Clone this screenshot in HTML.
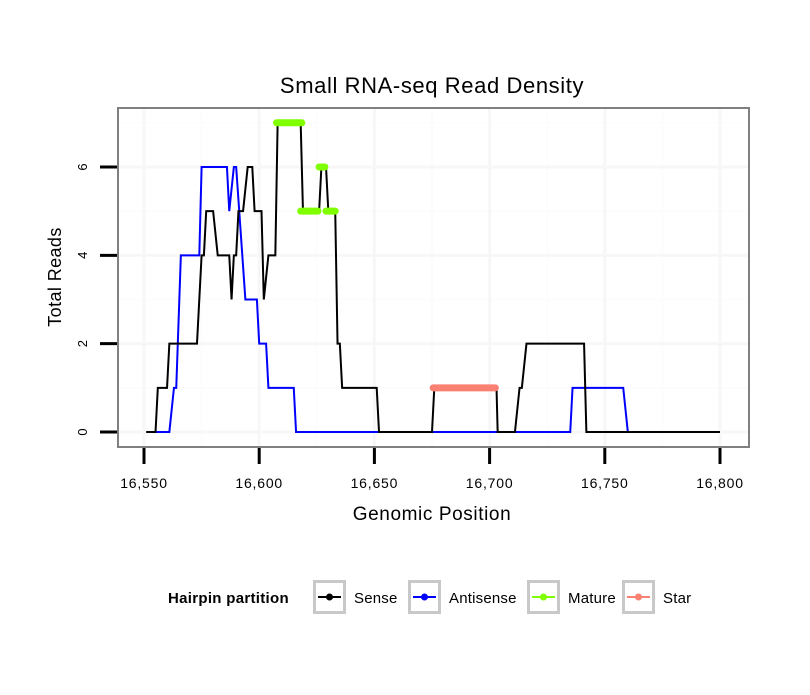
<!DOCTYPE html>
<html><head><meta charset="utf-8"><style>
body{margin:0;background:#fff;}
svg text{font-family:"Liberation Sans",sans-serif;}
</style></head><body>
<svg id="chart" width="810" height="690" xmlns="http://www.w3.org/2000/svg">
<rect width="810" height="690" fill="#fff"/>
<text x="432" y="93" font-size="22" letter-spacing="0.6" text-anchor="middle">Small RNA-seq Read Density</text>
<g id="grid"></g>
<g id="series"></g>
<rect x="118" y="108" width="631" height="339" fill="none" stroke="#808080" stroke-width="2"/>
<g id="axes"></g>
<text x="432" y="520" font-size="19" letter-spacing="0.6" text-anchor="middle">Genomic Position</text>
<text transform="translate(61,277) rotate(-90)" font-size="18" letter-spacing="0.4" text-anchor="middle">Total Reads</text>
<g>
<text x="168" y="603" font-size="15" font-weight="bold" letter-spacing="0.3">Hairpin partition</text>
<g id="legend-items"></g>
</g>
</svg>
<script>
const senseX=[16551,16555,16556,16560,16561,16573,16575,16576,16577,16580,16582,16587,16588,16589,16590,16591,16593,16595,16597,16598,16601,16602,16604,16607,16608,16618,16619,16626,16627,16629,16630,16633,16634,16635,16636,16651,16652,16675,16676,16703,16703.5,16711,16713,16714,16716,16741,16742,16800];
const senseY=[0,0,1,1,2,2,4,4,5,5,4,4,3,4,4,5,5,6,6,5,5,3,4,4,7,7,5,5,6,6,5,5,2,2,1,1,0,0,1,1,0,0,1,1,2,2,0,0];
const antiX=[16551,16561,16563,16564,16566,16574,16575,16586,16587,16589,16590,16594,16599,16600,16603,16604,16615,16616,16735,16736,16758,16760];
const antiY=[0,0,1,1,4,4,6,6,5,6,6,3,3,2,2,1,1,0,0,1,1,0];
const matureStart=[16607.5,16618,16626,16629];
const matureEnd=[16618.5,16625.5,16628.5,16633];
const matureY=[7,5,6,5];
const starStart=[16675.5];
const starEnd=[16702.5];
const starY=[1];
const xTicks=[16550,16600,16650,16700,16750,16800];
const xTickLabels=["16,550","16,600","16,650","16,700","16,750","16,800"];
const yTicks=[0,2,4,6];
const yTickLabels=["0","2","4","6"];
const legendLabels=["Sense","Antisense","Mature","Star"];
const legendColors=["#000","#0000ff","#7fff00","#fa8072"];

const NS="http://www.w3.org/2000/svg";
const xs=v=>144+(v-16550)*2.304;
const ys=v=>432-v*44.17;
function mk(tag,attrs,parent){const e=document.createElementNS(NS,tag);for(const k in attrs)e.setAttribute(k,attrs[k]);parent.appendChild(e);return e;}
const grid=document.getElementById('grid'),axes=document.getElementById('axes'),ser=document.getElementById('series');
[16575,16625,16675,16725,16775].forEach(v=>{const l=mk('line',{x1:xs(v),x2:xs(v),y1:108,y2:447,stroke:'#fcfcfc','stroke-width':1.5},grid);});
[1,3,5,7].forEach(v=>{const l=mk('line',{x1:118,x2:749,y1:ys(v),y2:ys(v),stroke:'#fcfcfc','stroke-width':1.5},grid);});
xTicks.forEach(v=>{const l=mk('line',{x1:xs(v),x2:xs(v),y1:108,y2:447,stroke:'#f7f7f7','stroke-width':3},grid);});
yTicks.forEach(v=>{const l=mk('line',{x1:118,x2:749,y1:ys(v),y2:ys(v),stroke:'#f7f7f7','stroke-width':3},grid);});
function line(X,Y,col,name){const p=mk('polyline',{points:X.map((x,i)=>xs(x)+','+ys(Y[i])).join(' '),fill:'none',stroke:col,'stroke-width':2},ser);}
line(antiX,antiY,'#0000ff','antisense-line');
line(senseX,senseY,'#000','sense-line');
function segs(S,E,Y,col,name){S.forEach((s,i)=>{const l=mk('line',{x1:xs(s),x2:xs(E[i]),y1:ys(Y[i]),y2:ys(Y[i]),stroke:col,'stroke-width':7,'stroke-linecap':'round'},ser);});}
segs(matureStart,matureEnd,matureY,'#7fff00','mature-segment');
segs(starStart,starEnd,starY,'#fa8072','star-segment');
xTicks.forEach((v,i)=>{const l=mk('line',{x1:xs(v),x2:xs(v),y1:448,y2:464,stroke:'#000','stroke-width':3},axes);
const t=mk('text',{x:xs(v),y:488,'font-size':14,'letter-spacing':'0.8','text-anchor':'middle'},axes);t.textContent=xTickLabels[i];});
yTicks.forEach((v,i)=>{const l=mk('line',{x1:100,x2:117,y1:ys(v),y2:ys(v),stroke:'#000','stroke-width':3},axes);
const t=mk('text',{transform:`translate(87,${ys(v)}) rotate(-90)`,'font-size':13,'text-anchor':'middle'},axes);t.textContent=yTickLabels[i];});
const lg=document.getElementById('legend-items');
const keyX=[313,408,527,622];
legendLabels.forEach((lab,i)=>{const x=keyX[i];
const r=mk('rect',{x:x+1.5,y:581.5,width:30,height:31,fill:'#fff',stroke:'#c8c8c8','stroke-width':3},lg);
const l=mk('line',{x1:x+5,x2:x+28,y1:597,y2:597,stroke:legendColors[i],'stroke-width':2},lg);
const c=mk('circle',{cx:x+16.5,cy:597,r:3.5,fill:legendColors[i]},lg);
const t=mk('text',{x:x+41,y:603,'font-size':15,'letter-spacing':'0.2'},lg);t.textContent=lab;});
</script>
</body></html>
